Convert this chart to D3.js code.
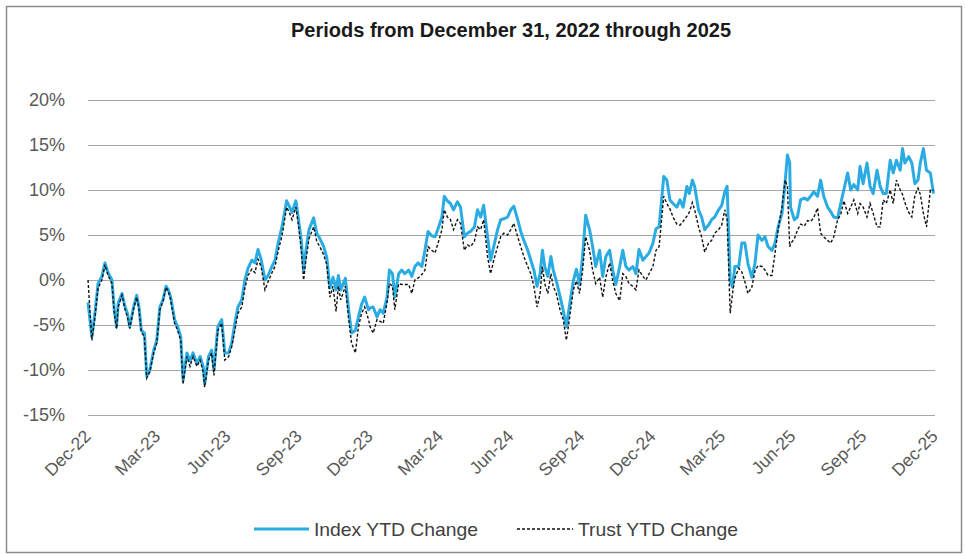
<!DOCTYPE html>
<html><head><meta charset="utf-8">
<script src="https://cdn.jsdelivr.net/npm/d3@7"></script>
<style>body{margin:0;background:#fff} svg{display:block}</style>
</head><body>
<svg id="c" width="965" height="556"></svg>
<script>
const titleText = "Periods from December 31, 2022 through 2025";
const seriesNames = ["Index YTD Change", "Trust YTD Change"];
const startDate = "2022-12-31";
const endDate = "2025-12-31";
const xTickDates = ["2022-12-31","2023-03-31","2023-06-30","2023-09-30","2023-12-31","2024-03-31","2024-06-30","2024-09-30","2024-12-31","2025-03-31","2025-06-30","2025-09-30","2025-12-31"];
const yTicks = [-15, -10, -5, 0, 5, 10, 15, 20];

// days since Dec 31, 2022
const dayOffsets = [
0,5,9,13,18,22,26,31,34,37,39,44,48,51,54,59,63,66,69,73,76,80,85,89,93,97,101,104,107,112,116,120,123,128,132,136,141,145,149,151,156,160,163,168,173,177,182,186,190,194,199,203,207,212,216,220,224,229,233,238,242,246,251,255,257,261,264,269,272,276,279,282,286,292,296,300,305,309,313,317,321,324,327,333,337,341,346,350,354,358,363,
365,369,374,378,382,387,390,394,397,402,406,410,415,419,423,427,432,436,440,445,449,453,458,461,465,469,473,478,482,487,491,495,500,504,508,512,517,521,525,530,534,538,543,547,551,556,560,564,569,573,577,581,585,588,591,595,599,602,606,611,615,619,624,628,632,636,640,644,649,653,657,662,666,670,675,679,683,688,692,696,700,705,709,713,718,722,726,731,735,739,
745,749,753,757,762,766,770,775,778,782,785,790,794,798,803,807,811,816,820,824,827,831,834,837,842,846,850,854,859,863,867,872,876,880,885,889,893,898,902,905,908,909,914,918,922,927,931,935,939,944,948,952,957,961,965,970,974,978,983,987,991,996,999,1003,1008,1012,1016,1021,1025,1029,1033,1038,1042,1046,1051,1054,1057,1062,1066,1070,1074,1077,1081,1085,1090,1094
];

const indexValues = [
-2.5,-6.3,-3.7,-0.4,0.4,1.9,0.8,0,-3.3,-5.2,-2.6,-1.5,-3.0,-3.7,-5.2,-3.0,-1.7,-3.0,-5.6,-5.9,-10.7,-10.0,-7.8,-6.7,-3.0,-2.2,-0.7,-1.1,-1.9,-4.4,-5.2,-6.3,-11.1,-8.1,-9.0,-8.1,-9.3,-8.5,-9.6,-11.5,-8.5,-7.8,-10.0,-5.2,-4.4,-8.1,-8.1,-7.0,-4.8,-3.0,-2.2,0,1.3,2.2,1.9,3.4,2.3,0,0.5,1.5,2.2,4.1,5.9,7.8,8.8,8.1,7.5,8.8,7.0,4.4,1.1,3.3,5.6,6.9,5.2,4.6,3.7,2.5,-0.9,0.3,-1.1,0.5,-1.1,0.2,-3.1,-5.9,-5.6,-4.1,-2.7,-1.9,-3.3,
-3.1,-3.0,-4.1,-3.3,-3.7,-1.9,1.1,0.7,-1.9,0.7,1.1,0.7,1.1,0.4,1.5,1.9,1.5,3.3,5.4,4.9,4.8,5.7,7.0,9.3,8.8,8.5,7.8,8.7,8.1,4.8,5.2,5.4,5.9,7.8,7.0,8.3,4.8,2.2,3.7,5.6,6.7,6.8,7.0,7.8,8.2,6.7,5.4,4.4,3.3,2.2,1.1,-0.7,0.7,3.3,1.5,0.4,2.6,1.1,-0.1,-1.9,-3.4,-5.2,-2.3,-0.1,1.2,-0.5,2.6,7.2,5.6,3.7,1.5,3.3,0.4,2.6,3.3,1.1,-0.5,1.5,3.3,1.5,1.1,1.5,0.7,3.4,2.2,2.6,3.0,4.1,5.7,5.9,
11.5,11.1,8.9,8.5,8.1,8.9,8.1,10.4,9.6,11.1,10.4,7.8,7.0,5.6,6.1,6.7,7.0,7.8,8.3,9.8,10.4,0,-0.8,1.5,1.5,4.1,4.1,1.8,0.3,1.8,5.0,4.4,4.8,3.7,3.3,4.1,5.9,7.4,10.8,13.9,13.0,8.1,6.7,7.0,8.9,9.1,8.9,9.3,9.8,9.3,11.1,9.3,8.1,7.6,7.0,6.9,8.5,10.0,11.9,10.0,10.6,10.0,12.6,10.7,13.0,10.4,9.6,12.2,10.4,9.6,9.6,13.3,11.9,13.3,12.2,14.6,13.0,13.7,13.0,10.7,11.1,13.0,14.6,12.2,11.9,9.6
];

const trustValues = [
0,-6.7,-4.1,-0.9,0,1.7,0.5,-0.4,-3.7,-5.4,-3.0,-1.7,-3.3,-4.1,-5.4,-3.2,-1.9,-3.3,-5.8,-6.3,-10.9,-10.2,-8.1,-7.0,-3.3,-2.4,-0.8,-1.3,-2.2,-4.8,-5.6,-6.7,-11.6,-8.5,-9.6,-8.5,-9.6,-8.9,-10.2,-11.9,-8.9,-8.1,-10.6,-5.6,-4.8,-8.9,-8.5,-7.4,-5.6,-3.7,-3.0,-0.9,0.5,1.2,0.8,2.3,1.5,-1.1,-0.2,0.8,1.5,3.2,4.9,7.0,8.1,7.4,6.7,8.1,6.3,3.3,0,2.2,4.6,5.9,4.3,3.7,2.8,1.7,-1.9,-0.7,-3.5,-0.7,-2.2,-0.7,-4.1,-7.0,-8.1,-5.2,-3.7,-3.0,-4.4,
-5.2,-5.9,-4.4,-4.6,-4.8,-2.5,-0.4,-0.7,-3.3,-0.4,-0.5,-0.5,-0.5,-1.5,0,0.2,0.6,1.1,3.7,3.3,3.0,4.1,5.6,7.8,7.0,6.7,5.6,6.7,6.3,3.3,3.9,3.7,4.3,5.9,5.6,6.7,2.6,0.7,2.2,3.7,4.8,5.2,5.0,5.6,6.3,4.8,3.7,2.6,1.5,0.7,-0.7,-3.0,-1.5,1.5,-0.4,-1.5,0.7,-0.7,-1.5,-3.4,-4.4,-6.7,-3.7,-1.1,-0.1,-1.5,1.1,4.8,3.3,1.1,-0.4,0.3,-1.9,0.3,1.9,-0.1,-1.5,-2.3,0.7,0.4,-0.4,-0.7,-1.1,1.1,0.4,0,0.7,1.5,3.3,3.7,
9.3,8.5,7.9,7.0,6.2,6.1,6.5,7.1,7.5,8.6,7.8,5.9,4.8,3.1,4.1,4.4,5.2,5.6,6.1,7.8,6.7,-3.7,-1.5,0.2,1.3,0.9,-0.2,-1.5,-0.8,1.0,1.6,1.5,1.1,0.5,0.5,3.0,5.6,8.1,11.1,10.4,3.7,4.0,4.6,5.5,6.2,6.0,6.6,6.5,6.9,8.0,5.2,4.8,4.4,4.1,4.8,6.7,7.3,8.8,7.4,8.1,8.9,7.4,8.5,8.1,7.0,8.5,7.4,5.9,5.9,8.9,8.5,10.0,8.5,11.1,10.0,9.5,8.6,7.5,7.0,9.4,10.2,9.5,7.4,5.9,10.0,10.0
];

const parse = d3.timeParse("%Y-%m-%d");
const t0 = parse(startDate);
const rows = dayOffsets.map((d, i) => ({
  date: d3.timeDay.offset(t0, d),
  index: indexValues[i],
  trust: trustValues[i]
}));

const svg = d3.select("#c");
const L = 88, R = 935, T = 100, B = 415;
const x = d3.scaleTime().domain([t0, parse(endDate)]).range([L, R]);
const y = d3.scaleLinear().domain([-15, 20]).range([B, T]);
const font = "'Liberation Sans', Arial, sans-serif";

svg.append("rect").attr("x", 0).attr("y", 0).attr("width", 965).attr("height", 556).attr("fill", "#fff");
svg.append("rect").attr("x", 6.5).attr("y", 6.5).attr("width", 955).attr("height", 546)
  .attr("fill", "none").attr("stroke", "#8c8c8c").attr("stroke-width", 1.5);

svg.append("text").attr("x", 511).attr("y", 37).attr("text-anchor", "middle")
  .attr("font-family", font).attr("font-weight", "bold").attr("font-size", 19.5)
  .attr("textLength", 440).attr("lengthAdjust", "spacingAndGlyphs")
  .attr("fill", "#1a1a1a").text(titleText);

const yAxis = svg.append("g").attr("transform", `translate(${L},0)`)
  .call(d3.axisLeft(y).tickValues(yTicks).tickSize(-(R - L)).tickPadding(23).tickFormat(d => d + "%"));
yAxis.select(".domain").remove();
yAxis.selectAll("line").attr("stroke", "#a6a6a6").attr("stroke-width", 1.2);
yAxis.selectAll("text").attr("font-family", font).attr("font-size", 18).attr("fill", "#595959");

const xAxis = svg.append("g").attr("transform", `translate(0,${B})`)
  .call(d3.axisBottom(x).tickValues(xTickDates.map(parse)).tickSize(0).tickFormat(d3.timeFormat("%b-%y")));
xAxis.select(".domain").remove();
xAxis.selectAll("text")
  .attr("font-family", font).attr("font-size", 17.5).attr("fill", "#595959")
  .attr("text-anchor", "end").attr("y", 0).attr("dy", "0.35em")
  .attr("transform", "translate(-1,18) rotate(-45)");

const lineIdx = d3.line().x(d => x(d.date)).y(d => y(d.index));
const lineTr = d3.line().x(d => x(d.date)).y(d => y(d.trust));

svg.append("path").datum(rows).attr("d", lineIdx).attr("fill", "none")
  .attr("stroke", "#2aace3").attr("stroke-width", 3).attr("stroke-linejoin", "round");
svg.append("path").datum(rows).attr("d", lineTr).attr("fill", "none")
  .attr("stroke", "#111").attr("stroke-width", 1.4).attr("stroke-dasharray", "3,2");

// legend
const lg = svg.append("g").attr("font-family", font).attr("font-size", 19).attr("fill", "#404040");
lg.append("line").attr("x1", 254).attr("x2", 309).attr("y1", 529).attr("y2", 529)
  .attr("stroke", "#2aace3").attr("stroke-width", 3);
lg.append("text").attr("x", 314).attr("y", 529).attr("dy", "0.35em")
  .attr("textLength", 164).attr("lengthAdjust", "spacingAndGlyphs").text(seriesNames[0]);
lg.append("line").attr("x1", 517).attr("x2", 573).attr("y1", 529).attr("y2", 529)
  .attr("stroke", "#111").attr("stroke-width", 1.4).attr("stroke-dasharray", "3,2");
lg.append("text").attr("x", 578).attr("y", 529).attr("dy", "0.35em")
  .attr("textLength", 160).attr("lengthAdjust", "spacingAndGlyphs").text(seriesNames[1]);
</script>
</body></html>
